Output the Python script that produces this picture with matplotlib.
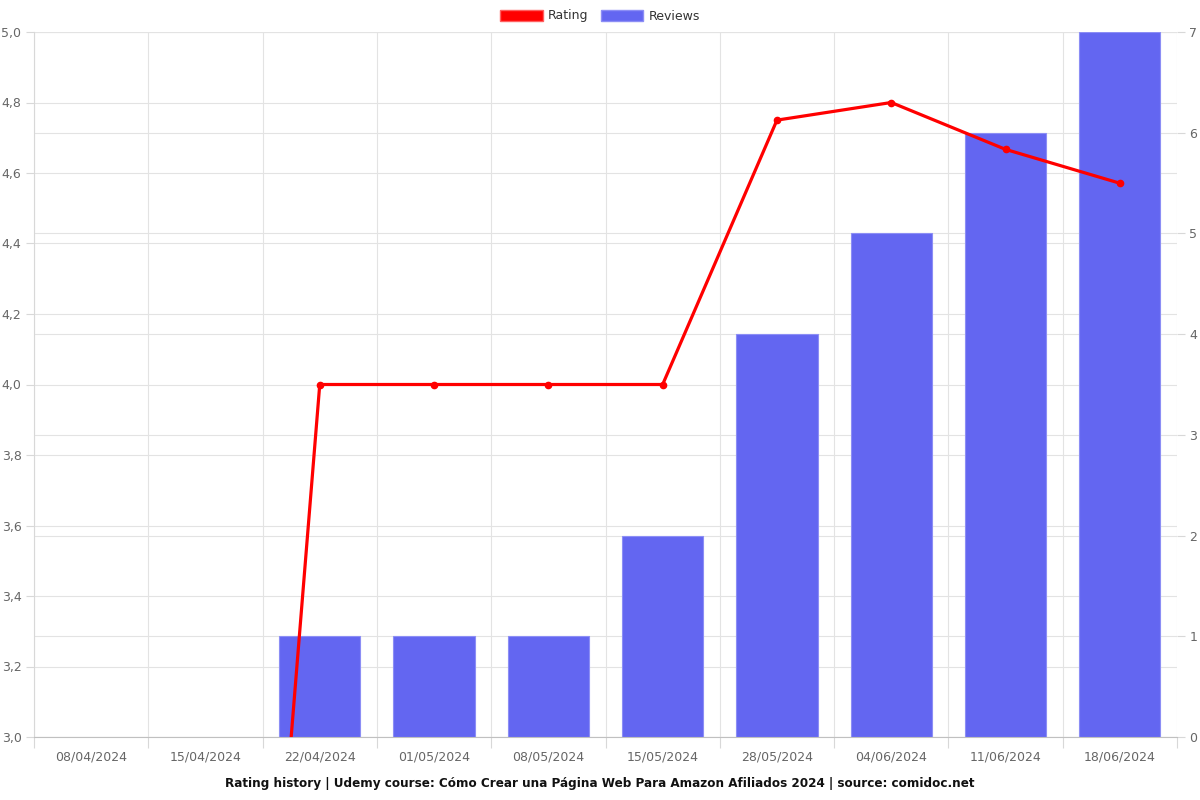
import matplotlib
matplotlib.use("Agg")
import matplotlib.pyplot as plt
from matplotlib.patches import Patch
from matplotlib.ticker import FixedLocator, FuncFormatter
import numpy as np

dates = ["08/04/2024", "15/04/2024", "22/04/2024", "01/05/2024", "08/05/2024",
         "15/05/2024", "28/05/2024", "04/06/2024", "11/06/2024", "18/06/2024"]
rating = [0, 0, 4.0, 4.0, 4.0, 4.0, 4.75, 4.8, 4.667, 4.571]
reviews = [0, 0, 1, 1, 1, 2, 4, 5, 6, 7]
rating_ticks = [3.0, 3.2, 3.4, 3.6, 3.8, 4.0, 4.2, 4.4, 4.6, 4.8, 5.0]
review_ticks = [0, 1, 2, 3, 4, 5, 6, 7]
title = "Rating history | Udemy course: Cómo Crear una Página Web Para Amazon Afiliados 2024 | source: comidoc.net"

GRID = "#e3e3e3"
TXT = "#666666"
FS = 9.0

fig = plt.figure(figsize=(12, 8), dpi=100)
ax = fig.add_axes([34/1200, 1-737/800, (1177-34)/1200, (737-32)/800])
ax2 = ax.twinx()

x = np.arange(len(dates))

ax.set_zorder(ax2.get_zorder() + 1)
ax.patch.set_visible(False)
ax2.patch.set_visible(True)
ax2.patch.set_facecolor("white")

lws = [0.8 if r > 0 else 0 for r in reviews]
ax2.bar(x, reviews, width=0.71, color="#6366f1", edgecolor="#8c8ef5", linewidth=lws, zorder=2)
ax2.set_ylim(0, 7)
ax2.set_xlim(-0.5, len(dates) - 0.5)
ax.set_xlim(-0.5, len(dates) - 0.5)
ax.set_ylim(3.0, 5.0)

for v in review_ticks:
    ax2.plot([0, 1], [v, v], transform=ax2.get_yaxis_transform(), color=GRID, lw=0.8, zorder=0.5)
for v in rating_ticks:
    ax2.plot([0, 1], [v, v], transform=ax.get_yaxis_transform(), color=GRID, lw=0.8, zorder=0.5)
for b in np.arange(len(dates) + 1) - 0.5:
    ax2.plot([b, b], [0, 1], transform=ax2.get_xaxis_transform(), color=GRID, lw=0.8, zorder=0.5)

ax.plot(x, rating, color="#ff0000", lw=2.3, marker="o", markersize=4.5, zorder=5, clip_on=True)

for a in (ax, ax2):
    for s in a.spines.values():
        s.set_visible(False)
ax.spines["bottom"].set_visible(True)
ax.spines["bottom"].set_color("#c0c0c0")
ax.spines["left"].set_visible(True)
ax.spines["left"].set_color("#d8d8d8")

ax.set_xticks(x)
ax.set_xticklabels(dates)
ax.xaxis.set_minor_locator(FixedLocator(np.arange(len(dates) + 1) - 0.5))
ax.tick_params(axis="x", which="major", length=0, pad=10, labelsize=FS, labelcolor=TXT)
ax.tick_params(axis="x", which="minor", length=8, color="#d8d8d8", width=0.8)

ax.yaxis.set_major_locator(FixedLocator(rating_ticks))
ax.yaxis.set_major_formatter(FuncFormatter(lambda v, p: f"{v:.1f}".replace(".", ",")))
ax.tick_params(axis="y", length=6, color="#d8d8d8", width=0.8, labelsize=FS, labelcolor=TXT, pad=3)

ax2.yaxis.set_major_locator(FixedLocator(review_ticks))
ax2.tick_params(axis="y", length=6, color="#d8d8d8", width=0.8, labelsize=FS, labelcolor=TXT, pad=3)

handles = [Patch(facecolor="#ff0000", edgecolor="#ff6060", label="Rating"),
           Patch(facecolor="#6366f1", edgecolor="#8c8ef5", label="Reviews")]
fig.legend(handles=handles, loc="center", bbox_to_anchor=(0.5, 1 - 16/800), ncol=2,
           frameon=False, fontsize=FS, handlelength=3.4, handleheight=1.0,
           columnspacing=1.0, handletextpad=0.4, labelcolor="#333333")

fig.text(0.5, 1 - 783/800, title, ha="center", va="center", fontsize=8.65, fontweight="bold", color="#111111")

fig.savefig("out.png", dpi=100)
